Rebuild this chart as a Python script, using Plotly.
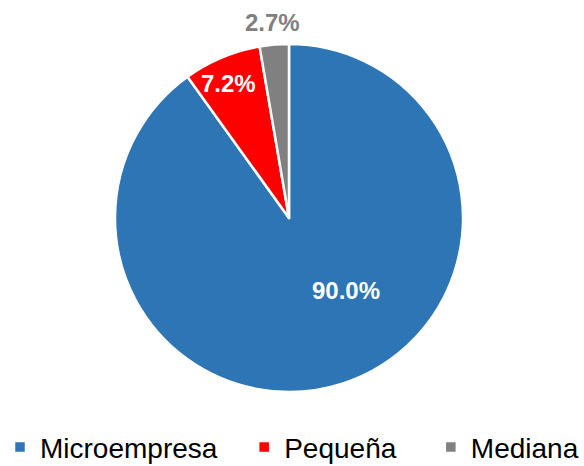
import math
import plotly.graph_objects as go

labels = ["Microempresa", "Pequeña", "Mediana"]
values = [90.0, 7.2, 2.7]
texts = ["90.0%", "7.2%", "2.7%"]
colors = ["#2E75B6", "#FF0000", "#808080"]

# label styling (radial fraction of radius, angular offset in degrees, colour)
label_r = [0.53, 0.845, 1.13]
label_da = [-20, -1.5, 0]
label_col = ["white", "white", "#808080"]
# extra trailing space in legend entries (to match the original spacing)
legend_pad = ["\u2002\u00a0", "\u2002\u00a0\u00a0", ""]

W, H = 584, 466
ML, MR, MT, MB = 0, 0, 44, 74
pw, ph = W - ML - MR, H - MT - MB
# pie square domain (pixels within plot area)
px0, px1 = 115, 463
dom_x = [(px0 - ML) / pw, (px1 - ML) / pw]

legend_labels = [l + p for l, p in zip(labels, legend_pad)]

fig = go.Figure(go.Pie(
    labels=legend_labels,
    values=values,
    textinfo="none",
    sort=False,
    direction="clockwise",
    rotation=0,
    domain=dict(x=dom_x, y=[0, 1]),
    marker=dict(colors=colors, line=dict(color="white", width=2.5)),
    hoverinfo="label+percent",
))

cx = (dom_x[0] + dom_x[1]) / 2
rx = (dom_x[1] - dom_x[0]) / 2
cy, ry = 0.5, 0.5
total = sum(values)
cum = 0.0
annotations = []
for v, t, r, da, c in zip(values, texts, label_r, label_da, label_col):
    mid = (cum + v / 2) / total * 360 + da
    cum += v
    th = math.radians(mid)
    annotations.append(dict(
        x=cx + rx * r * math.sin(th), y=cy + ry * r * math.cos(th),
        xref="paper", yref="paper", text=t, showarrow=False,
        xanchor="center", yanchor="middle",
        font=dict(family="Liberation Sans, Arial", size=24, color=c, weight="bold"),
    ))

fig.update_layout(
    width=W, height=H,
    margin=dict(l=ML, r=MR, t=MT, b=MB, pad=0, autoexpand=False),
    paper_bgcolor="white",
    plot_bgcolor="white",
    showlegend=True,
    annotations=annotations,
    legend=dict(orientation="h", x=0, xanchor="left",
                yref="container", y=0.04, yanchor="middle",
                bgcolor="rgba(0,0,0,0)",
                font=dict(family="Liberation Sans, Arial", size=28, color="black"),
                itemwidth=30),
)

fig.write_html("out.html", config={"displayModeBar": False},
               post_script="document.body.style.margin='0';")
